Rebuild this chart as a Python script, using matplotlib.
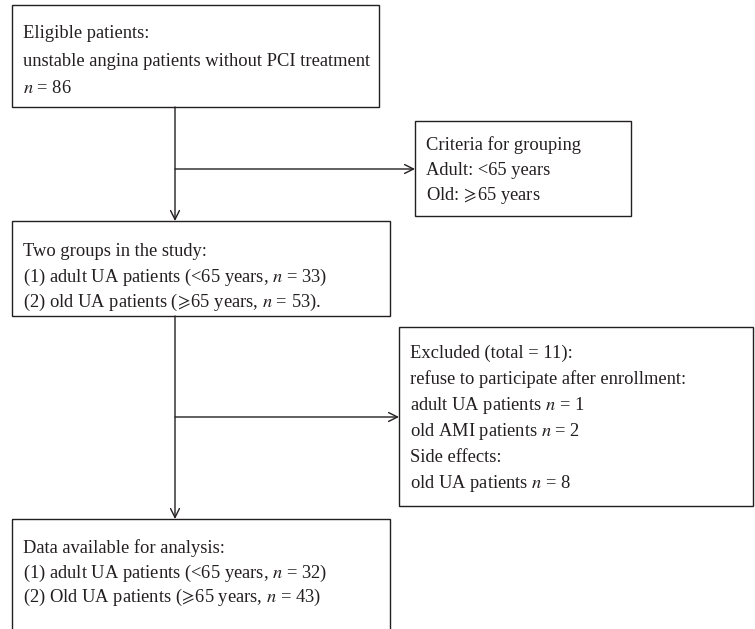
# Flow chart of patient selection (UA study), drawn with plain matplotlib.
import matplotlib.pyplot as plt
from matplotlib.patches import Rectangle

plt.rcParams['font.family'] = ['Liberation Serif', 'DejaVu Serif']
plt.rcParams['mathtext.fontset'] = 'stix'

GE = r"$\!{\geqslant}\!$"  # slanted "greater or equal"

# Box texts
eligible_lines = ["Eligible patients:",
                  "unstable angina patients without PCI treatment",
                  "$n$ = 86"]
criteria_lines = ["Criteria for grouping",
                  "Adult: <65 years",
                  "Old: " + GE + "65 years"]
groups_lines = ["Two groups in the study:",
                "(1) adult UA patients (<65 years, $n$ = 33)",
                "(2) old UA patients (" + GE + "65 years, $n$ = 53)."]
excluded_lines = ["Excluded (total = 11):",
                  "refuse to participate after enrollment:",
                  "adult UA patients $n$ = 1",
                  "old AMI patients $n$ = 2",
                  "Side effects:",
                  "old UA patients $n$ = 8"]
final_lines = ["Data available for analysis:",
               "(1) adult UA patients (<65 years, $n$ = 32)",
               "(2) Old UA patients (" + GE + "65 years, $n$ = 43)"]

INK = '#231f20'
FS = 13.3

fig = plt.figure(figsize=(7.55, 6.29), dpi=100)
ax = fig.add_axes([0, 0, 1, 1])
ax.set_xlim(0, 755)
ax.set_ylim(629, 0)
ax.axis('off')


def box(x0, y0, x1, y1, lines, first, step):
    ax.add_patch(Rectangle((x0, y0), x1 - x0, y1 - y0, fill=False,
                           edgecolor=INK, linewidth=1.0))
    for i, s in enumerate(lines):
        ax.text(x0 + 11, first + i * step, s, fontsize=FS, color=INK,
                va='baseline', ha='left')


def arrow(x0, y0, x1, y1):
    ax.annotate('', xy=(x1, y1), xytext=(x0, y0),
                arrowprops=dict(arrowstyle='->', color=INK, lw=1.0,
                                mutation_scale=16, shrinkA=0, shrinkB=0))


box(12, 5, 379, 107, eligible_lines, 38, 27.5)
box(415, 121, 631, 216, criteria_lines, 150, 25)
box(12, 221, 390, 316, groups_lines, 256, 25.5)
box(399, 327, 753, 506, excluded_lines, 358, 26)
box(12, 519, 390, 660, final_lines, 553, 24.5)

trunk = 175
arrow(trunk, 107, trunk, 221)
arrow(trunk, 169, 415, 169)
arrow(trunk, 316, trunk, 519)
arrow(trunk, 417, 399, 417)

fig.savefig("out.png", dpi=100)
